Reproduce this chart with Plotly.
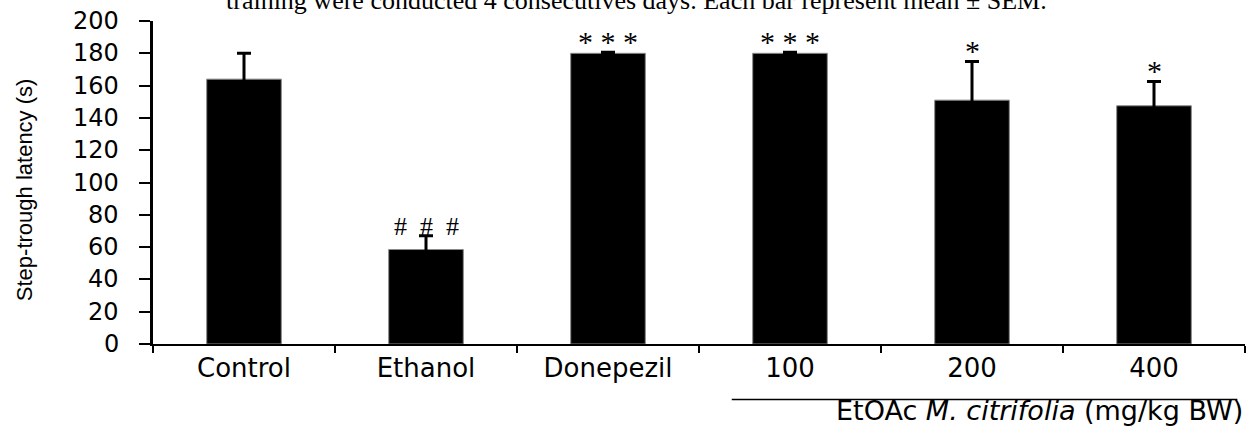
import plotly.graph_objects as go

categories = ["Control", "Ethanol", "Donepezil", "100", "200", "400"]
latency_mean = [164, 58.5, 180, 180, 151, 147.5]
latency_sem = [16, 8.5, 0.6, 0.6, 24, 15]
significance = ["", "#\u00a0\u00a0#\u00a0\u00a0#", "*\u00a0*\u00a0*", "*\u00a0*\u00a0*", "*", "*"]
y_ticks = [0, 20, 40, 60, 80, 100, 120, 140, 160, 180, 200]
y_tick_labels = [str(v) for v in y_ticks]

SERIF = "Liberation Serif, Times New Roman, serif"
SANS = "DejaVu Sans, Arial, sans-serif"

fig = go.Figure()
fig.add_trace(go.Bar(
    x=categories,
    y=latency_mean,
    marker=dict(color="black", line=dict(color="#8a8a8a", width=1)),
    error_y=dict(type="data", array=latency_sem, symmetric=True,
                 color="black", thickness=3, width=7),
    showlegend=False,
))

for i, (m, s, lab) in enumerate(zip(latency_mean, latency_sem, significance)):
    if not lab:
        continue
    if lab.startswith("#"):
        fig.add_annotation(x=i, y=m + s, text=lab, showarrow=False,
                           yanchor="middle", yshift=9,
                           font=dict(family=SERIF, size=26, color="black"))
    else:
        fig.add_annotation(x=i, y=m + s, text=lab, showarrow=False,
                           yanchor="middle", yshift=11,
                           font=dict(family=SERIF, size=30, color="black"))

# y tick labels placed further from the axis, as in the original
for v, t in zip(y_ticks, y_tick_labels):
    fig.add_annotation(xref="paper", yref="y", x=-0.0293, y=v, text=t,
                       showarrow=False, xanchor="right", yanchor="middle",
                       font=dict(family=SANS, size=24, color="black"))

# caption (partly cut off at the top)
fig.add_annotation(xref="paper", yref="paper", x=0.443, y=1.062,
                   text="training were conducted 4 consecutives days. Each bar represent mean \u00b1 SEM.",
                   showarrow=False, xanchor="center", yanchor="middle",
                   font=dict(family=SERIF, size=26, color="black"))

# y-axis title
fig.add_annotation(xref="paper", yref="paper", x=-0.117, y=0.477,
                   text="Step-trough latency (s)", textangle=-90, showarrow=False,
                   xanchor="center", yanchor="middle",
                   font=dict(family="Liberation Sans Narrow, Arial Narrow, Liberation Sans, sans-serif",
                             size=22, color="black"))

# group bracket
fig.add_shape(type="line", xref="paper", yref="paper", x0=0.530, x1=0.993,
              y0=-0.172, y1=-0.172, line=dict(color="black", width=1.5))
fig.add_annotation(xref="paper", yref="paper", x=1.0, y=-0.2074,
                   text="EtOAc <i>M. citrifolia</i> (mg/kg BW)", showarrow=False,
                   xanchor="right", yanchor="middle",
                   font=dict(family=SANS, size=27, color="black"))

fig.update_layout(
    width=1250, height=426,
    margin=dict(l=153, r=5, t=21, b=82),
    paper_bgcolor="white", plot_bgcolor="white",
    bargap=0.59,
    font=dict(family=SANS, color="black"),
)
fig.update_xaxes(
    type="category", range=[-0.5, 5.5],
    showline=True, linecolor="black", linewidth=2,
    ticks="outside", tickson="boundaries", ticklen=7, tickwidth=2, tickcolor="black",
    tickfont=dict(family=SANS, size=26),
    showgrid=False, zeroline=False,
)
fig.update_yaxes(
    range=[0, 200], tickvals=y_ticks, showticklabels=False,
    showline=True, linecolor="black", linewidth=3,
    ticks="outside", ticklen=11, tickwidth=2, tickcolor="black",
    showgrid=False, zeroline=False,
)

fig.write_html("out.html", config={"displayModeBar": False},
               post_script="document.body.style.margin='0px';")
